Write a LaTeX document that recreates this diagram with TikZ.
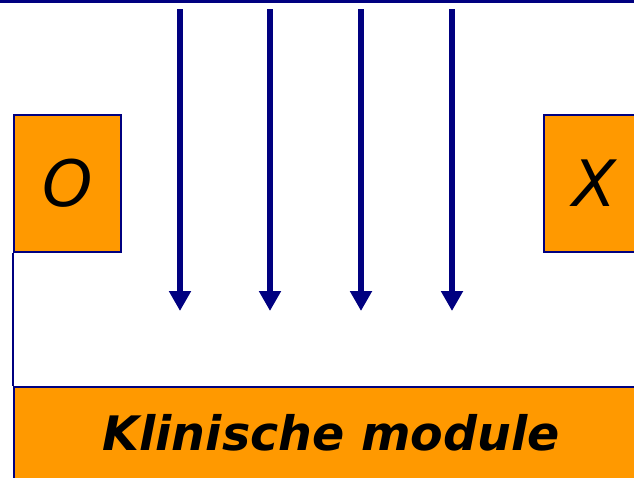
\documentclass[tikz,border=0pt]{standalone}
\usepackage{fontspec}
\setmainfont{DejaVu Sans}
\usetikzlibrary{arrows.meta}
\definecolor{navy}{HTML}{000080}
\definecolor{orng}{HTML}{FF9900}
\tikzset{
  box/.style={draw=navy, line width=1.5pt, fill=orng, inner sep=0pt, anchor=north west},
  flow/.style={draw=navy, line width=6pt, -{Triangle[width=21pt,length=20pt]}},
  edge/.style={draw=navy, line width=1.5pt},
}
\begin{document}
\begin{tikzpicture}[x=1pt,y=-1pt]
\useasboundingbox (0,0) rectangle (634,477);
\clip (0,0) rectangle (634,477);
\fill[white] (0,0) rectangle (634,477);
\coordinate (tl) at (0,1.5);
\coordinate (tr) at (634,1.5);
\draw[navy, line width=3pt] (tl) -- (tr);
\node[box, minimum width=107pt, minimum height=137pt, font=\fontsize{64}{64}\selectfont\itshape] (O) at (13,114) {O};
\node[box, minimum width=110pt, minimum height=137pt, font=\fontsize{64}{64}\selectfont\itshape] (X) at (543,114) {\hspace*{-8pt}X};
\node[box, minimum width=640pt, minimum height=100pt] (K) at (13,386) {};
\node[font=\fontsize{47.5}{47.5}\selectfont\bfseries\itshape] (Kt) at (331,433) {Klinische module};
\foreach \i/\x in {1/180,2/270,3/361,4/452}{
  \coordinate (s\i) at (\x,9);
  \coordinate (e\i) at (\x,311);
  \draw[flow] (s\i) -- (e\i);
}
\draw[edge] (O.south west) -- (K.north west);
\end{tikzpicture}
\end{document}
